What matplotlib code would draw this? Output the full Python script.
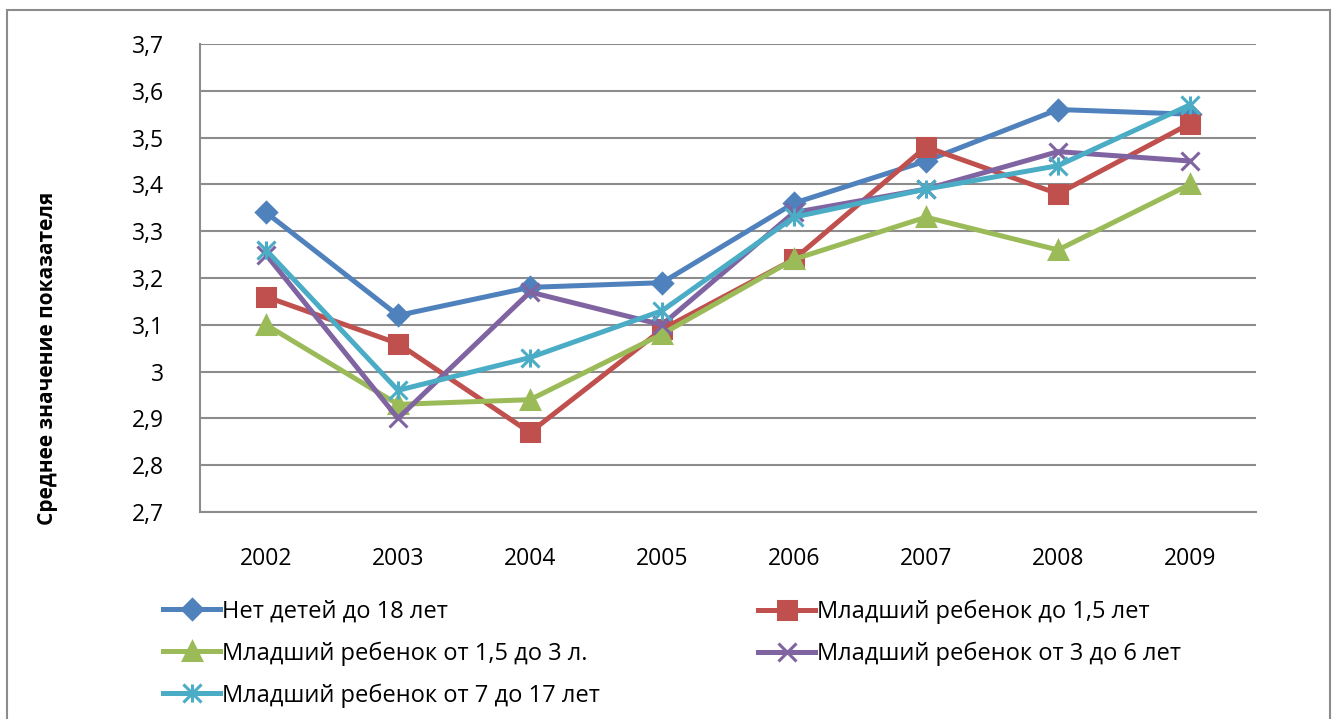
import matplotlib.pyplot as plt
import numpy as np
from matplotlib.path import Path
from matplotlib.patches import Rectangle

plt.rcParams['font.family'] = ['Open Sans', 'DejaVu Sans']

years = ['2002', '2003', '2004', '2005', '2006', '2007', '2008', '2009']
no_kids = [3.34, 3.12, 3.18, 3.19, 3.36, 3.45, 3.56, 3.55]
under_1_5 = [3.16, 3.06, 2.87, 3.09, 3.24, 3.48, 3.38, 3.53]
from_1_5_to_3 = [3.10, 2.93, 2.94, 3.08, 3.24, 3.33, 3.26, 3.40]
from_3_to_6 = [3.25, 2.90, 3.17, 3.10, 3.34, 3.39, 3.47, 3.45]
from_7_to_17 = [3.26, 2.96, 3.03, 3.13, 3.33, 3.39, 3.44, 3.57]

labels = ['Нет детей до 18 лет', 'Младший ребенок до 1,5 лет',
          'Младший ребенок от 1,5 до 3 л.', 'Младший ребенок от 3 до 6 лет',
          'Младший ребенок от 7 до 17 лет']
yticks = [2.7, 2.8, 2.9, 3.0, 3.1, 3.2, 3.3, 3.4, 3.5, 3.6, 3.7]
ytick_labels = ['2,7', '2,8', '2,9', '3', '3,1', '3,2', '3,3', '3,4', '3,5', '3,6', '3,7']

# excel style asterisk: vertical bar + X
star = Path([(0, -1), (0, 1), (-1, -1), (1, 1), (-1, 1), (1, -1)],
            [Path.MOVETO, Path.LINETO, Path.MOVETO, Path.LINETO, Path.MOVETO, Path.LINETO])

series = [no_kids, under_1_5, from_1_5_to_3, from_3_to_6, from_7_to_17]
colors = ['#4F81BD', '#C0504D', '#9BBB59', '#8064A2', '#4BACC6']
markers = ['D', 's', '^', 'x', star]
msizes = [10, 13, 13, 13, 13]

W, H = 1332, 719
fig = plt.figure(figsize=(W / 100, H / 100), dpi=100)
ax = fig.add_axes([200 / W, 1 - 512 / H, (1256 - 200) / W, (512 - 44) / H])

x = np.arange(len(years))
handles = []
for vals, c, m, ms, lab in zip(series, colors, markers, msizes, labels):
    h, = ax.plot(x, vals, color=c, lw=3.6, marker=m, ms=ms,
                 mec=c, mfc=c, mew=2.2, label=lab)
    handles.append(h)

ax.set_xlim(-0.5, len(years) - 0.5)
ax.set_ylim(2.7, 3.7)
ax.set_yticks(yticks)
ax.set_yticklabels(ytick_labels)
ax.set_xticks(x)
ax.set_xticklabels(years)
ax.tick_params(axis='both', length=0, labelsize=16.5)
ax.tick_params(axis='y', pad=26)
ax.tick_params(axis='x', pad=25)
ax.yaxis.grid(True, color='#8C8C8C', lw=1.5)
ax.set_axisbelow(True)
for s in ['top', 'right']:
    ax.spines[s].set_visible(False)
for s in ['left', 'bottom']:
    ax.spines[s].set_color('#8C8C8C')
    ax.spines[s].set_linewidth(1.5)

fig.text(48 / W, 1 - 358 / H, 'Среднее значение показателя', rotation=90,
         ha='center', va='center', fontsize=15, fontweight='bold')

leg_kw = dict(loc='upper left', frameon=False, fontsize=17, handlelength=2.4,
              handletextpad=0.1, labelspacing=0.75, borderaxespad=0)
leg1 = fig.legend([handles[0], handles[2], handles[4]],
                  [labels[0], labels[2], labels[4]],
                  bbox_to_anchor=(154 / W, 1 - 590 / H), **leg_kw)
leg2 = fig.legend([handles[1], handles[3]], [labels[1], labels[3]],
                  bbox_to_anchor=(749 / W, 1 - 590 / H), **leg_kw)

fig.patches.append(Rectangle((7 / W, -0.01), (1330 - 7) / W, 1 - 10 / H + 0.01,
                             transform=fig.transFigure, fill=False,
                             ec='#8C8C8C', lw=1.5))

fig.savefig('out.png', dpi=100)
